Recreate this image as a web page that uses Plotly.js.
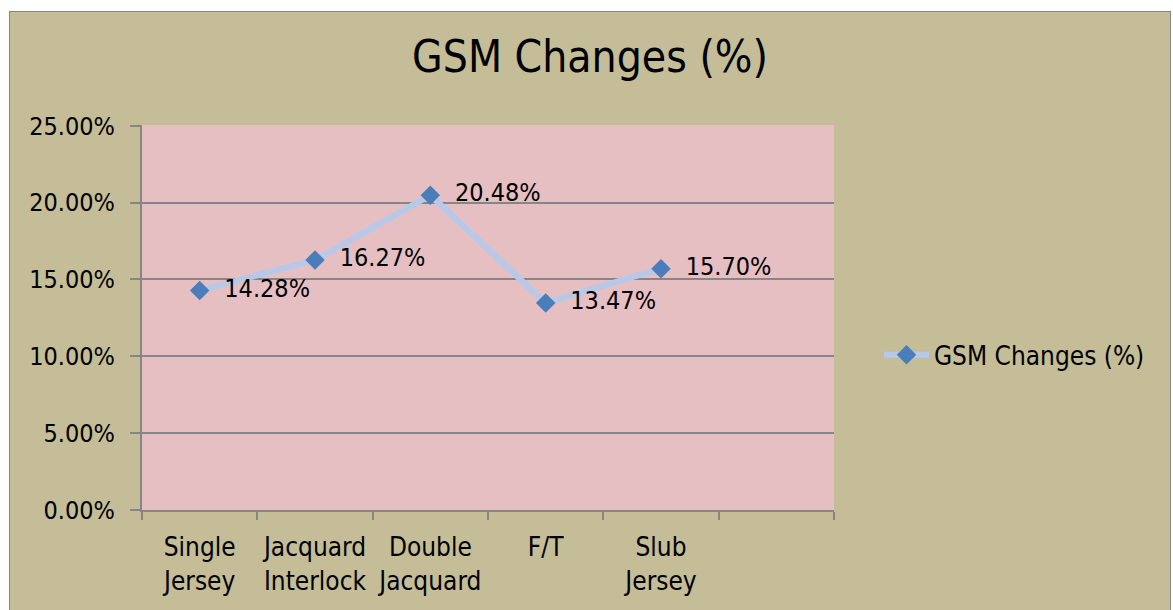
<!DOCTYPE html>
<html>
<head>
<meta charset="utf-8">
<script src="https://cdn.plot.ly/plotly-3.0.1.min.js"></script>
<style>
  html, body { margin: 0; padding: 0; background: #ffffff; width: 1173px; height: 610px; overflow: hidden; }
  #frame { position: absolute; left: 9px; top: 11px; width: 1162px; height: 610px; border: 1px solid #868686; box-sizing: border-box; background: #c4bd97; }
  #chart { width: 1160px; height: 608px; }
</style>
</head>
<body>
<div id="frame"><div id="chart"></div></div>
<script>
const categories = ['Single<br>Jersey', 'Jacquard<br>Interlock', 'Double<br>Jacquard', 'F/T', 'Slub<br>Jersey', ' '];
const gsmChanges = [0.1428, 0.1627, 0.2048, 0.1347, 0.1570, null];
const seriesName = 'GSM Changes (%)';
const yTickValues = [0, 0.05, 0.10, 0.15, 0.20, 0.25];

const FONT = '"DejaVu Sans Condensed", "Liberation Sans Narrow", "DejaVu Sans", sans-serif';
const GRID = '#868686';

const trace = {
  type: 'scatter',
  mode: 'lines+markers+text',
  name: seriesName,
  x: categories,
  y: gsmChanges,
  line: { color: '#b6c9e8', width: 6 },
  marker: { symbol: 'diamond', size: 15, color: '#4a7ebb' },
  texttemplate: '  %{y:.2%}',
  textposition: 'middle right',
  textfont: { family: FONT, size: 25, color: '#000000' },
  cliponaxis: false,
  hoverinfo: 'skip'
};

const layout = {
  width: 1160,
  height: 608,
  margin: { l: 132, r: 336, t: 113, b: 110 },
  paper_bgcolor: '#c4bd97',
  plot_bgcolor: '#e6bfc3',
  font: { family: FONT, size: 25, color: '#000000' },
  title: {
    text: 'GSM Changes (%)',
    font: { family: FONT, size: 44, color: '#000000' },
    x: 0.5, xref: 'container', xanchor: 'center',
    y: 0.926, yref: 'container', yanchor: 'middle'
  },
  xaxis: {
    type: 'category',
    categoryorder: 'array',
    categoryarray: categories,
    range: [-0.5, 5.5],
    tickson: 'boundaries',
    tickangle: 0,
    ticks: 'outside',
    ticklen: 8,
    tickwidth: 2,
    tickcolor: GRID,
    showline: true,
    linecolor: GRID,
    linewidth: 2,
    showgrid: false,
    zeroline: false,
    ticklabelstandoff: 13,
    tickfont: { family: FONT, size: 26, color: '#000000' },
    fixedrange: true
  },
  yaxis: {
    range: [0, 0.2505],
    tickvals: yTickValues,
    tickformat: '.2%',
    ticks: 'outside',
    ticklen: 10,
    tickwidth: 2,
    tickcolor: GRID,
    showline: true,
    linecolor: GRID,
    linewidth: 2,
    showgrid: true,
    gridcolor: GRID,
    gridwidth: 2,
    zeroline: false,
    ticklabelstandoff: 10,
    tickfont: { family: FONT, size: 25, color: '#000000' },
    fixedrange: true
  },
  showlegend: true,
  legend: {
    x: 1.065, xanchor: 'left',
    y: 0.403, yanchor: 'middle',
    bgcolor: 'rgba(0,0,0,0)',
    font: { family: FONT, size: 26, color: '#000000' },
    itemwidth: 45
  }
};

Plotly.newPlot('chart', [trace], layout, { displayModeBar: false, staticPlot: true });
</script>
</body>
</html>
